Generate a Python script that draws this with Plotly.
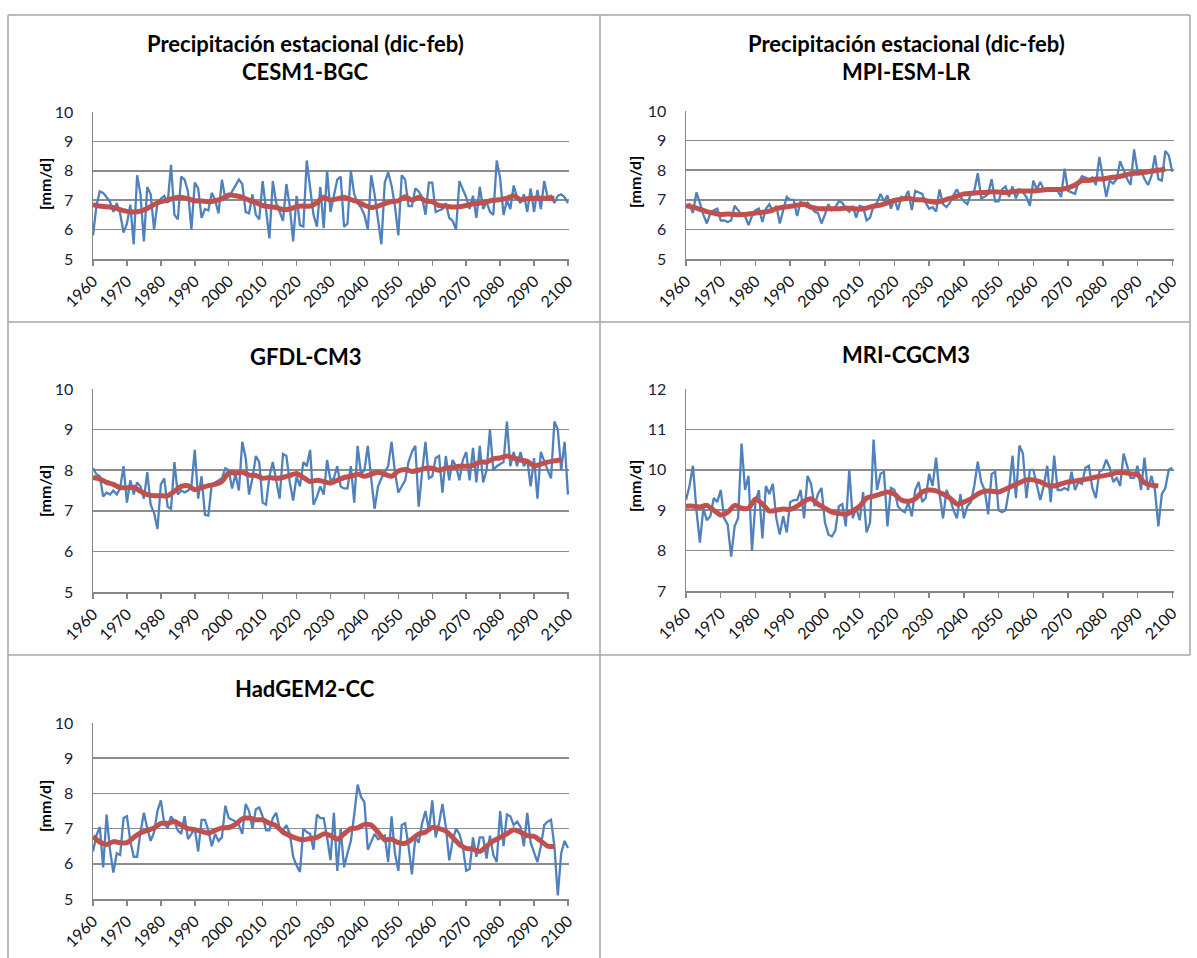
import plotly.graph_objects as go

W, H = 1197, 958

years = list(range(1960, 2101))
tick_years = list(range(1960, 2101, 10))
tick_text = [str(y) for y in tick_years]

cesm_blue = [5.8, 6.8, 7.3, 7.25, 7.1, 6.95, 6.6, 6.9, 6.55, 5.9,
             6.2, 6.85, 5.5, 7.85, 7.2, 5.6, 7.45, 7.2, 6.0, 6.9,
             7.05, 7.15, 6.9, 8.2, 6.5, 6.35, 7.8, 7.7, 7.3, 6.0,
             7.6, 7.4, 6.4, 6.7, 6.65, 7.25, 7.0, 6.55, 7.7, 7.05,
             7.1, 7.3, 7.5, 7.7, 7.55, 6.6, 6.55, 7.2, 6.5, 6.35,
             7.65, 6.6, 5.7, 7.65, 6.9, 6.6, 6.3, 7.55, 6.8, 5.6,
             7.15, 6.15, 6.1, 8.35, 7.5, 6.5, 6.1, 7.45, 6.05, 8.0,
             6.6, 7.2, 7.7, 7.8, 6.1, 6.2, 8.0, 7.2, 6.9, 6.75,
             6.5, 6.0, 7.85, 7.2, 6.3, 5.5, 7.6, 7.95, 7.5, 6.8,
             5.8, 7.85, 7.7, 6.8, 6.8, 7.4, 7.3, 7.1, 6.5, 7.6,
             7.6, 6.6, 6.65, 6.7, 6.9, 6.4, 6.3, 6.0, 7.65, 7.4,
             7.1, 6.7, 7.15, 6.4, 7.45, 6.7, 6.95, 6.6, 6.5, 8.35,
             7.75, 6.5, 7.0, 6.7, 7.5, 7.1, 6.9, 7.2, 6.6, 7.4,
             6.6, 7.35, 6.7, 7.65, 7.1, 7.15, 6.9, 7.15, 7.2, 7.1,
             6.9]
cesm_red = [6.85, 6.8, 6.78, 6.75, 6.68, 6.62, 6.6, 6.63, 6.72, 6.85,
            6.95, 7.0, 7.08, 7.1, 7.05, 6.98, 6.97, 6.95, 6.98, 7.05,
            7.18, 7.15, 7.1, 7.0, 6.92, 6.82, 6.78, 6.75, 6.68, 6.7,
            6.78, 6.8, 6.8, 6.92, 7.1, 7.0, 7.05, 7.1, 7.02, 6.95,
            6.83, 6.75, 6.8, 6.88, 6.95, 6.98, 7.12, 7.0, 7.1, 6.98,
            6.95, 6.82, 6.8, 6.77, 6.78, 6.82, 6.88, 6.9, 6.95, 7.0,
            7.02, 7.07, 7.15, 7.02, 7.05, 7.07, 7.07, 7.07, 7.07]

mpi_blue = [6.75, 6.85, 6.55, 7.25, 6.9, 6.5, 6.2, 6.55, 6.65, 6.7,
            6.3, 6.3, 6.25, 6.3, 6.8, 6.65, 6.5, 6.45, 6.15, 6.45,
            6.65, 6.7, 6.25, 6.7, 6.85, 6.6, 6.8, 6.2, 6.65, 7.1,
            7.0, 7.0, 6.45, 6.95, 6.8, 6.9, 6.75, 6.6, 6.55, 6.2,
            6.5, 6.85, 6.65, 6.75, 6.95, 6.9, 6.7, 6.6, 6.8, 6.4,
            6.8, 6.75, 6.3, 6.4, 6.8, 6.9, 7.2, 6.95, 7.15, 6.7,
            7.05, 6.65, 7.1, 7.05, 7.3, 6.65, 7.3, 7.25, 7.2, 6.9,
            6.7, 6.75, 6.6, 7.35, 6.85, 6.75, 6.9, 7.15, 7.35, 7.1,
            6.95, 6.85, 7.2, 7.3, 7.9, 7.05, 7.1, 7.2, 7.7, 6.95,
            6.95, 7.35, 7.45, 7.1, 7.45, 7.05, 7.35, 7.25, 7.1, 6.8,
            7.65, 7.35, 7.6, 7.35, 7.3, 7.35, 7.3, 7.3, 7.1, 8.05,
            7.3, 7.25, 7.2, 7.6, 7.8, 7.75, 7.7, 7.75, 7.5, 8.45,
            7.7, 7.1, 7.65, 7.55, 7.7, 8.3, 8.0, 7.7, 7.5, 8.7,
            7.95, 8.0, 7.7, 7.5, 7.8, 8.5, 7.7, 7.65, 8.65, 8.5,
            7.95]
mpi_red = [6.8, 6.75, 6.68, 6.6, 6.55, 6.5, 6.52, 6.5, 6.5, 6.52,
           6.55, 6.58, 6.62, 6.7, 6.75, 6.78, 6.82, 6.85, 6.75, 6.7,
           6.7, 6.7, 6.7, 6.72, 6.7, 6.68, 6.72, 6.78, 6.82, 6.9,
           6.98, 7.02, 7.05, 7.0, 7.0, 6.95, 6.92, 6.97, 7.05, 7.12,
           7.2, 7.22, 7.24, 7.25, 7.27, 7.26, 7.25, 7.27, 7.3, 7.3,
           7.3, 7.32, 7.35, 7.35, 7.35, 7.4, 7.5, 7.65, 7.65, 7.7,
           7.7, 7.75, 7.77, 7.82, 7.88, 7.9, 7.93, 7.97, 8.0, 8.03]

gfdl_blue = [8.05, 7.9, 7.85, 7.35, 7.45, 7.4, 7.5, 7.4, 7.55, 8.1,
             7.2, 7.75, 7.4, 7.7, 7.6, 7.3, 7.95, 7.15, 6.95, 6.55,
             7.65, 7.8, 7.1, 7.05, 8.2, 7.4, 7.5, 7.45, 7.5, 7.6,
             8.5, 7.3, 7.85, 6.9, 6.88, 7.65, 7.7, 7.75, 7.8, 8.05,
             8.0, 7.55, 7.9, 7.5, 8.7, 8.3, 7.4, 7.8, 8.35, 8.2,
             7.2, 7.15, 7.85, 8.2, 7.7, 7.3, 8.4, 8.35, 7.7, 7.25,
             7.85, 7.6, 8.2, 8.1, 8.5, 7.15, 7.35, 7.6, 7.4, 8.25,
             7.75, 7.8, 8.1, 7.6, 7.55, 7.55, 8.1, 7.2, 8.6, 7.9,
             8.0, 8.6, 7.8, 7.05, 7.6, 7.8, 7.95, 8.1, 8.7, 7.95,
             7.45, 7.6, 7.75, 8.2, 8.45, 8.6, 7.1, 7.95, 8.7, 7.8,
             7.85, 8.3, 8.35, 7.45, 8.35, 7.75, 8.25, 8.1, 7.75, 8.25,
             8.45, 7.75, 8.55, 7.7, 8.6, 7.7, 8.0, 9.0, 8.0, 8.1,
             8.15, 8.2, 9.2, 8.1, 8.45, 8.1, 8.45, 8.1, 8.25, 7.6,
             8.3, 7.3, 8.45, 8.2, 8.0, 7.8, 9.2, 9.0, 8.0, 8.7,
             7.4]
gfdl_red = [7.82, 7.78, 7.7, 7.65, 7.57, 7.57, 7.58, 7.48, 7.4, 7.37,
            7.37, 7.37, 7.48, 7.6, 7.62, 7.52, 7.57, 7.62, 7.65, 7.72,
            7.93, 7.93, 7.95, 7.88, 7.87, 7.8, 7.82, 7.8, 7.82, 7.87,
            7.92, 7.82, 7.72, 7.75, 7.72, 7.68, 7.75, 7.82, 7.85, 7.9,
            7.85, 7.9, 7.95, 7.9, 7.85, 7.98, 8.02, 7.97, 8.0, 8.05,
            8.05, 8.0, 8.05, 8.07, 8.1, 8.1, 8.12, 8.2, 8.2, 8.28,
            8.3, 8.35, 8.3, 8.25, 8.22, 8.1, 8.15, 8.2, 8.23, 8.25]

mri_blue = [9.25, 9.6, 10.1, 9.0, 8.2, 9.05, 8.75, 8.85, 9.3, 9.2,
            9.5, 8.8, 8.65, 7.85, 8.6, 8.8, 10.65, 9.5, 9.85, 8.0,
            9.2, 9.5, 8.3, 9.6, 9.4, 9.65, 8.8, 8.4, 8.85, 8.45,
            9.2, 9.25, 9.25, 9.5, 8.8, 9.85, 9.65, 9.1, 9.4, 9.55,
            8.7, 8.4, 8.35, 8.5, 9.1, 9.15, 8.6, 10.0, 8.8, 9.05,
            8.75, 9.45, 8.45, 8.7, 10.75, 9.5, 9.9, 9.95, 8.6, 9.55,
            9.5, 9.1, 9.0, 8.95, 9.2, 8.85, 9.5, 9.7, 9.2, 9.3,
            9.9, 9.6, 10.3, 9.4, 8.8, 9.5, 9.3, 9.0, 8.8, 9.4,
            8.8, 9.1, 9.2, 9.6, 10.2, 9.7, 9.5, 8.9, 9.9, 9.95,
            9.0, 8.95, 9.0, 9.5, 10.35, 9.3, 10.6, 10.4, 9.3, 10.0,
            10.0, 9.6, 9.25, 9.6, 10.1, 9.2, 10.35, 9.5, 9.5, 9.55,
            9.5, 9.95, 9.5, 9.7, 9.65, 10.05, 10.1, 9.55, 9.3, 9.95,
            10.0, 10.25, 10.05, 9.7, 9.8, 9.6, 10.4, 10.1, 9.8, 9.8,
            10.1, 9.5, 10.3, 9.5, 9.85, 9.5, 8.6, 9.4, 9.55, 10.0,
            10.05]
mri_red = [9.1, 9.1, 9.08, 9.12, 9.0, 8.88, 8.95, 9.12, 9.05, 9.05,
           9.28, 9.15, 8.98, 9.0, 9.03, 9.02, 9.1, 9.22, 9.28, 9.15,
           9.05, 8.95, 8.92, 8.9, 8.98, 9.1, 9.3, 9.35, 9.4, 9.45,
           9.4, 9.25, 9.22, 9.28, 9.45, 9.5, 9.48, 9.4, 9.3, 9.15,
           9.2, 9.28, 9.4, 9.47, 9.47, 9.45, 9.52, 9.6, 9.68, 9.75,
           9.75, 9.7, 9.62, 9.6, 9.65, 9.7, 9.72, 9.75, 9.78, 9.82,
           9.85, 9.88, 9.93, 9.93, 9.9, 9.88, 9.68, 9.62, 9.6]

had_blue = [6.35, 6.8, 7.05, 5.9, 7.4, 6.4, 5.75, 6.3, 6.25, 7.3,
            7.35, 6.65, 6.2, 6.2, 6.9, 7.45, 7.0, 6.65, 6.9, 7.5,
            7.8, 7.15, 7.0, 7.35, 7.2, 6.95, 6.85, 7.35, 6.7, 6.85,
            7.0, 6.35, 7.25, 7.25, 6.95, 6.5, 6.85, 6.65, 6.75, 7.65,
            7.3, 7.25, 7.2, 7.1, 6.85, 7.7, 7.5, 7.0, 7.55, 7.6,
            7.35, 6.95, 6.95, 7.3, 7.45, 7.0, 6.95, 7.1, 6.85, 6.2,
            5.95, 5.77, 7.0, 6.9, 6.85, 6.4, 7.4, 7.3, 7.3, 6.75,
            6.1, 7.45, 5.8, 7.0, 5.9, 6.3, 6.65, 7.4, 8.25, 7.9,
            7.75, 6.4, 6.65, 6.85, 6.7, 6.75, 6.8, 6.05, 7.35, 6.3,
            5.8, 7.1, 7.15, 6.5, 5.7, 6.75, 6.6, 7.15, 7.5, 6.95,
            7.8, 6.75, 7.15, 7.7, 7.05, 6.1, 6.65, 7.0, 6.85, 6.5,
            5.8, 5.85, 6.75, 6.2, 6.75, 6.75, 6.15, 6.8, 6.25, 6.05,
            7.5, 6.5, 7.4, 7.35, 7.1, 7.2, 7.05, 6.5, 7.45, 6.6,
            6.35, 6.05, 6.5, 7.1, 7.2, 7.25, 6.5, 5.1, 6.3, 6.65,
            6.45]
had_red = [6.78, 6.62, 6.55, 6.63, 6.6, 6.6, 6.75, 6.88, 6.95, 7.02,
           7.15, 7.15, 7.2, 7.1, 7.0, 6.97, 6.92, 6.87, 6.95, 7.02,
           7.03, 7.12, 7.28, 7.3, 7.25, 7.25, 7.15, 7.08, 6.9, 6.8,
           6.72, 6.68, 6.72, 6.75, 6.85, 6.8, 6.7, 6.85, 7.0, 7.02,
           7.12, 7.1, 6.9, 6.68, 6.7, 6.6, 6.58, 6.7, 6.85, 6.9,
           7.03, 7.0, 6.93, 6.75, 6.55, 6.44, 6.42, 6.35, 6.5, 6.65,
           6.75, 6.85, 6.97, 6.9, 6.8, 6.78, 6.65, 6.5, 6.5]

panels = [
    ("CESM1-BGC", cesm_blue, cesm_red, [5, 10], True),
    ("MPI-ESM-LR", mpi_blue, mpi_red, [5, 10], True),
    ("GFDL-CM3", gfdl_blue, gfdl_red, [5, 10], False),
    ("MRI-CGCM3", mri_blue, mri_red, [7, 12], False),
    ("HadGEM2-CC", had_blue, had_red, [5, 10], False),
]

# pixel boxes of plot areas: x0, x1, ytop, ybottom, x_end_year
boxes = [
    (93, 569, 112, 259, 2100.3),
    (686, 1174, 111, 259, 2100.5),
    (93, 569, 389, 592, 2100.3),
    (686, 1174, 389, 591, 2100.5),
    (93, 569, 723, 899, 2100.3),
]
title_pos = [(305, 44, 72), (906, 44, 72), (305, None, 356), (906, None, 355), (305, None, 688)]
ylab_pos = [(44, 184), (634, 182), (44, 491), (634, 486), (44, 806)]

FONT = "Lato"
BLUE = "#4F81BD"
RED = "#C0504D"
GRID = "#8C8C8C"

fig = go.Figure()
annotations = []
layout_axes = {}
for i, ((name, blue, red, yr, two), (x0, x1, yt, yb, xend)) in enumerate(zip(panels, boxes)):
    n = i + 1
    xa = "x" if n == 1 else f"x{n}"
    ya = "y" if n == 1 else f"y{n}"
    red_years = list(range(1960, 1960 + 2 * len(red), 2))
    fig.add_trace(go.Scatter(x=years, y=blue, mode="lines", xaxis=xa, yaxis=ya,
                             line=dict(color=BLUE, width=2.3), showlegend=False))
    fig.add_trace(go.Scatter(x=red_years, y=red, mode="lines", xaxis=xa, yaxis=ya,
                             line=dict(color=RED, width=5, shape="spline", smoothing=0.6),
                             showlegend=False))
    xkey = "xaxis" if n == 1 else f"xaxis{n}"
    ykey = "yaxis" if n == 1 else f"yaxis{n}"
    layout_axes[xkey] = dict(
        domain=[x0 / W, x1 / W], anchor=ya, range=[1960, xend], automargin=False,
        tickmode="array", tickvals=tick_years, ticktext=tick_text, tickangle=-45,
        ticks="outside", ticklen=5, tickcolor="#868686", tickwidth=1.5,
        showline=True, linecolor="#868686", linewidth=1.5, showgrid=False, zeroline=False,
        tickfont=dict(family=FONT, size=16, color="#111111"), fixedrange=True,
    )
    layout_axes[ykey] = dict(
        domain=[1 - yb / H, 1 - yt / H], anchor=xa, range=yr, dtick=1, tick0=yr[0],
        automargin=False,
        showline=True, linecolor="#868686", linewidth=1.5,
        showgrid=True, gridcolor=GRID, gridwidth=1.6, zeroline=False,
        ticks="", ticklabelstandoff=15,
        tickfont=dict(family=FONT, size=16, color="#1b1b3a"), fixedrange=True,
    )
    tx, ty1, ty2 = title_pos[i]
    if two:
        annotations.append(dict(text="<b>Precipitación estacional (dic-feb)</b>", x=tx / W, y=1 - ty1 / H,
                                xref="paper", yref="paper", showarrow=False, xanchor="center", yanchor="middle",
                                font=dict(family=FONT, size=22, color="#000000")))
    annotations.append(dict(text=f"<b>{name}</b>", x=tx / W, y=1 - ty2 / H,
                            xref="paper", yref="paper", showarrow=False, xanchor="center", yanchor="middle",
                            font=dict(family=FONT, size=22, color="#000000")))
    lx, ly = ylab_pos[i]
    annotations.append(dict(text="<b>[mm/d]</b>", x=lx / W, y=1 - ly / H, textangle=-90,
                            xref="paper", yref="paper", showarrow=False, xanchor="center", yanchor="middle",
                            font=dict(family=FONT, size=16, color="#000000")))

BORDER = "#A6A6A6"
def hline(y, xa, xb):
    return dict(type="line", xref="paper", yref="paper", x0=xa / W, x1=xb / W, y0=1 - y / H, y1=1 - y / H,
                line=dict(color=BORDER, width=1.5))
def vline(x, ya, yb):
    return dict(type="line", xref="paper", yref="paper", x0=x / W, x1=x / W, y0=1 - ya / H, y1=1 - yb / H,
                line=dict(color=BORDER, width=1.5))

shapes = [hline(15, 8, 1190), hline(322, 8, 1190), hline(655, 8, 1190),
          vline(8, 15, 958), vline(600, 15, 958), vline(1190, 15, 655)]

fig.update_layout(width=W, height=H, autosize=False,
                  margin=dict(l=0, r=0, t=0, b=0, pad=0, autoexpand=False),
                  paper_bgcolor="white", plot_bgcolor="white", hovermode=False,
                  annotations=annotations, shapes=shapes, **layout_axes)

fig.write_html("out.html", config={"displayModeBar": False, "staticPlot": True},
               post_script="document.body.style.margin='0px';document.body.style.overflow='hidden';")
